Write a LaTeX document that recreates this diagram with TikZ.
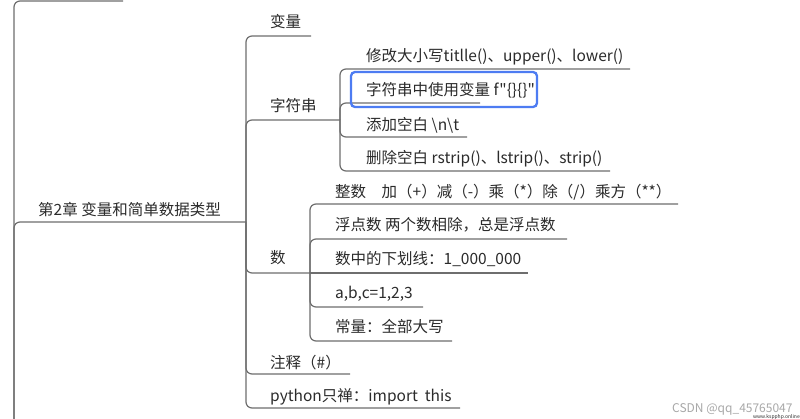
\documentclass[tikz,border=0pt]{standalone}
\usepackage{fontspec}
\setmainfont{Noto Sans CJK SC}[Ligatures=TeXOff]
\definecolor{linegray}{HTML}{6E6E6E}
\definecolor{textc}{HTML}{2B2B2B}
\definecolor{hlblue}{HTML}{4D7CF2}
\definecolor{wmgray}{HTML}{A8A8A8}
\begin{document}
\begin{tikzpicture}[x=1pt,y=-1pt,
  branch/.style={draw=linegray, line width=1.2pt, rounded corners=6pt},
  lbl/.style={anchor=base west, inner sep=0pt, text=textc, font=\fontsize{15.5}{18}\selectfont},
  hlbox/.style={draw=hlblue, line width=2.3pt, rounded corners=4pt},
  wm/.style={inner sep=0pt, text=wmgray}]
\fill[white] (0,0) rectangle (800,419);
\useasboundingbox (0,0) rectangle (800,419);

% junctions and underline ends
\coordinate (root) at (14,419);
\coordinate (topend) at (123,1);
\coordinate (j2) at (246,222);
\coordinate (j3) at (340,120);
\coordinate (j4) at (310,273);
\coordinate (e-bl) at (311,36);
\coordinate (e-zs) at (350,374);
\coordinate (e-py) at (460,408);
\coordinate (e-s1) at (630,69);
\coordinate (e-s2) at (480,103);
\coordinate (e-s3) at (467,137);
\coordinate (e-s4) at (610,171);
\coordinate (e-n1) at (678,204);
\coordinate (e-n2) at (567,239);
\coordinate (e-n3) at (528,273);
\coordinate (e-n4) at (423,307);
\coordinate (e-n5) at (452,341);

% labels
\node[lbl] (ch) at (38,216) {第2章 变量和简单数据类型};
\node[lbl] (bl) at (270,28) {变量};
\node[lbl] (zfc) at (270,112) {字符串};
\node[lbl] (shu) at (270,264) {数};
\node[lbl] (zs) at (270,368) {注释（\#）};
\node[lbl] (py) at (270,401) {python只禅：import\ \ this};
\node[lbl] (s1) at (366,62) {修改大小写titlle()、upper()、lower()};
\node[lbl] (s2) at (366,96) {字符串中使用变量 f"\{\}\{\}"};
\node[lbl] (s3) at (366,131) {添加空白 \textbackslash n\textbackslash t};
\node[lbl] (s4) at (366,164) {删除空白 rstrip()、lstrip()、strip()};
\node[lbl] (n1) at (335,198) {整数\quad 加（+）减（-）乘（*）除（/）乘方（**）};
\node[lbl] (n2) at (335,231) {浮点数 两个数相除，总是浮点数};
\node[lbl] (n3) at (335,265) {数中的下划线：1\_000\_000};
\node[lbl] (n4) at (335,299) {a,b,c=1,2,3};
\node[lbl] (n5) at (335,333) {常量：全部大写};

% connectors
\draw[branch] (root) |- (topend);
\draw[branch] (root) |- (j2);
\draw[branch] (j2) |- (e-bl);
\draw[branch] (j2) |- (j3);
\draw[branch] (j2) |- (j4);
\draw[branch] (j2) |- (e-zs);
\draw[branch] (j2) |- (e-py);
\draw[branch] (j3) |- (e-s1);
\draw[branch] (j3) |- (e-s2);
\draw[branch] (j3) |- (e-s3);
\draw[branch] (j3) |- (e-s4);
\draw[branch] (j4) |- (e-n1);
\draw[branch] (j4) |- (e-n2);
\draw[branch] (j4) -- (e-n3);
\draw[branch] (j4) |- (e-n4);
\draw[branch] (j4) |- (e-n5);

% highlight
\draw[hlbox] (351,72) rectangle (537,107);

% watermark
\node[wm, anchor=base west, font=\fontsize{12}{14}\selectfont] (wm1) at (672,412) {CSDN @qq\_45765047};
\node[wm, anchor=base east, text=textc, font=\fontsize{5}{6}\selectfont] (wm2) at (800,418) {www.kspphp.online};
\end{tikzpicture}
\end{document}
